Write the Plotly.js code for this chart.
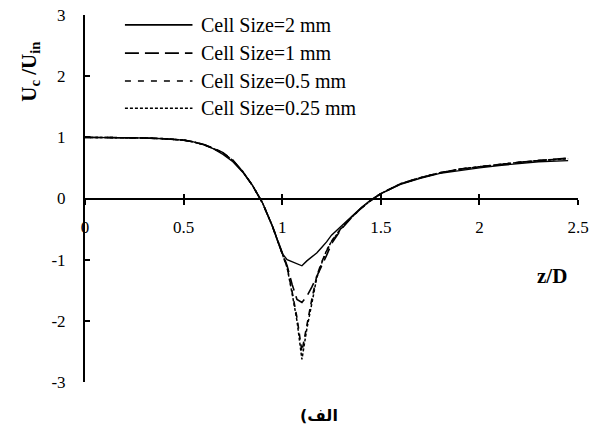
<!DOCTYPE html>
<html>
<head>
<meta charset="utf-8">
<script src="https://cdn.plot.ly/plotly-3.0.1.min.js"></script>
<style>html,body{margin:0;padding:0;background:#fff;}#chart{width:608px;height:424px;}</style>
</head>
<body>
<div id="chart"></div>
<script>
// z/D positions
const z = [0, 0.1, 0.2, 0.3, 0.4, 0.5, 0.55, 0.6, 0.65, 0.7, 0.75, 0.8, 0.85, 0.9, 0.95, 1.0,
           1.025, 1.05, 1.075, 1.1, 1.125, 1.15, 1.175, 1.2, 1.225, 1.25, 1.3, 1.35, 1.4, 1.45,
           1.5, 1.6, 1.7, 1.8, 1.9, 2.0, 2.1, 2.2, 2.3, 2.45];

const cell2mm = [1.0, 1.0, 0.995, 0.99, 0.978, 0.955, 0.925, 0.88, 0.815, 0.72, 0.6, 0.43, 0.21, -0.07, -0.45, -0.9,
                 -1.0, -1.03, -1.065, -1.1, -1.02, -0.95, -0.89, -0.8, -0.71, -0.6, -0.45, -0.3, -0.15, -0.02,
                 0.08, 0.23, 0.33, 0.41, 0.46, 0.5, 0.54, 0.57, 0.6, 0.62];

const cell1mm = [1.0, 1.0, 0.995, 0.99, 0.978, 0.955, 0.925, 0.885, 0.825, 0.75, 0.63, 0.44, 0.21, -0.07, -0.45, -0.9,
                 -1.1, -1.4, -1.65, -1.7, -1.6, -1.45, -1.28, -1.12, -0.93, -0.74, -0.5, -0.32, -0.16, -0.03,
                 0.08, 0.24, 0.34, 0.42, 0.48, 0.52, 0.56, 0.59, 0.62, 0.66];

const cell05mm = [1.0, 1.0, 0.995, 0.99, 0.978, 0.955, 0.925, 0.885, 0.82, 0.74, 0.62, 0.44, 0.21, -0.07, -0.45, -0.9,
                  -1.12, -1.52, -1.95, -2.5, -2.05, -1.65, -1.27, -1.04, -0.86, -0.7, -0.48, -0.31, -0.16, -0.03,
                  0.08, 0.24, 0.34, 0.42, 0.48, 0.52, 0.56, 0.59, 0.62, 0.655];

const cell025mm = [1.0, 1.0, 0.995, 0.99, 0.978, 0.955, 0.925, 0.885, 0.82, 0.74, 0.62, 0.44, 0.21, -0.07, -0.45, -0.9,
                   -1.13, -1.55, -2.0, -2.63, -2.13, -1.72, -1.3, -1.06, -0.85, -0.7, -0.49, -0.31, -0.16, -0.03,
                   0.08, 0.24, 0.34, 0.42, 0.48, 0.52, 0.56, 0.59, 0.62, 0.65];

const seriesNames = ['Cell Size=2 mm', 'Cell Size=1 mm', 'Cell Size=0.5 mm', 'Cell Size=0.25 mm'];

const xTickVals = [0, 0.5, 1, 1.5, 2, 2.5];
const xTickText = ['0', '0.5', '1', '1.5', '2', '2.5'];
const yTickVals = [-3, -2, -1, 0, 1, 2, 3];
const yTickText = ['-3', '-2', '-1', '0', '1', '2', '3'];

const xTitle = 'z/D';
const yTitle = 'U<sub>c</sub> /U<sub>in</sub>';
const caption = '(الف';

const serif = 'Liberation Serif, Times New Roman, serif';

const series = [cell2mm, cell1mm, cell05mm, cell025mm];
const dashes = ['solid', '13px,6px', '6px,5px', '3px,2px'];
const legendDashes = ['solid', '14px,6px', '6px,7px', '3px,2px'];
const widths = [1.4, 1.6, 1.6, 1.5];

const traces = series.map((s, i) => ({
  x: z, y: s, type: 'scatter', mode: 'lines', name: seriesNames[i],
  line: {color: '#000', width: widths[i], dash: dashes[i]},
  hoverinfo: 'skip', showlegend: false
}));
// invisible helper trace so the overlaid tick axis (upward tick halves) is drawn
traces.push({x: z, y: cell2mm, xaxis: 'x2', type: 'scatter', mode: 'lines',
  line: {color: 'rgba(0,0,0,0)', width: 0}, showlegend: false, hoverinfo: 'skip'});

const legendRowsY = [0.973, 0.896, 0.82, 0.746];
const shapes = [];
const annotations = [];
seriesNames.forEach((name, i) => {
  shapes.push({type: 'line', xref: 'paper', yref: 'paper', x0: 0.081, x1: 0.218,
    y0: legendRowsY[i], y1: legendRowsY[i], line: {color: '#000', width: 1.6, dash: legendDashes[i]}});
  annotations.push({text: name, xref: 'paper', yref: 'paper', x: 0.232, y: legendRowsY[i],
    xanchor: 'left', yanchor: 'middle', showarrow: false, font: {family: serif, size: 20, color: '#000'}});
});

annotations.push(
  {text: '<b>' + xTitle + '</b>', xref: 'x', yref: 'y', x: 2.37, y: -1.27, showarrow: false,
   xanchor: 'center', yanchor: 'middle', font: {family: serif, size: 21, color: '#000'}},
  {text: '<b>' + yTitle + '</b>', xref: 'paper', yref: 'paper', x: -0.112, y: 0.845, textangle: -90,
   xanchor: 'center', yanchor: 'middle', showarrow: false, font: {family: serif, size: 21, color: '#000'}},
  {text: '<b>' + caption + '</b>', xref: 'paper', yref: 'paper', x: 0.475, y: -0.09, showarrow: false,
   xanchor: 'center', yanchor: 'middle', font: {family: 'DejaVu Sans', size: 16, color: '#000'}}
);

const layout = {
  width: 608, height: 424,
  margin: {l: 85, r: 30, t: 15, b: 42},
  paper_bgcolor: '#fff', plot_bgcolor: '#fff',
  showlegend: false,
  font: {family: serif, color: '#000'},
  xaxis: {range: [0, 2.5], anchor: 'free', position: 0.5, showline: true, linewidth: 2, linecolor: '#000',
          ticks: 'outside', ticklen: 5, tickwidth: 2, tickcolor: '#000',
          tickvals: xTickVals, ticktext: xTickText, showgrid: false, zeroline: false,
          tickfont: {family: serif, size: 17, color: '#000'}, ticklabelstandoff: 8},
  xaxis2: {range: [0, 2.5], overlaying: 'x', anchor: 'free', position: 0.5, side: 'bottom',
           showline: false, ticks: 'inside', ticklen: 5, tickwidth: 2, tickcolor: '#000',
           tickvals: xTickVals, showticklabels: false, showgrid: false, zeroline: false},
  yaxis: {range: [-3, 3], showline: true, linewidth: 2, linecolor: '#000',
          ticks: 'inside', ticklen: 5, tickwidth: 2, tickcolor: '#000',
          tickvals: yTickVals, ticktext: yTickText, showgrid: false, zeroline: false,
          tickfont: {family: serif, size: 17, color: '#000'}, ticklabelstandoff: 14},
  shapes: shapes,
  annotations: annotations
};

Plotly.newPlot('chart', traces, layout, {staticPlot: true, displayModeBar: false});
</script>
</body>
</html>
